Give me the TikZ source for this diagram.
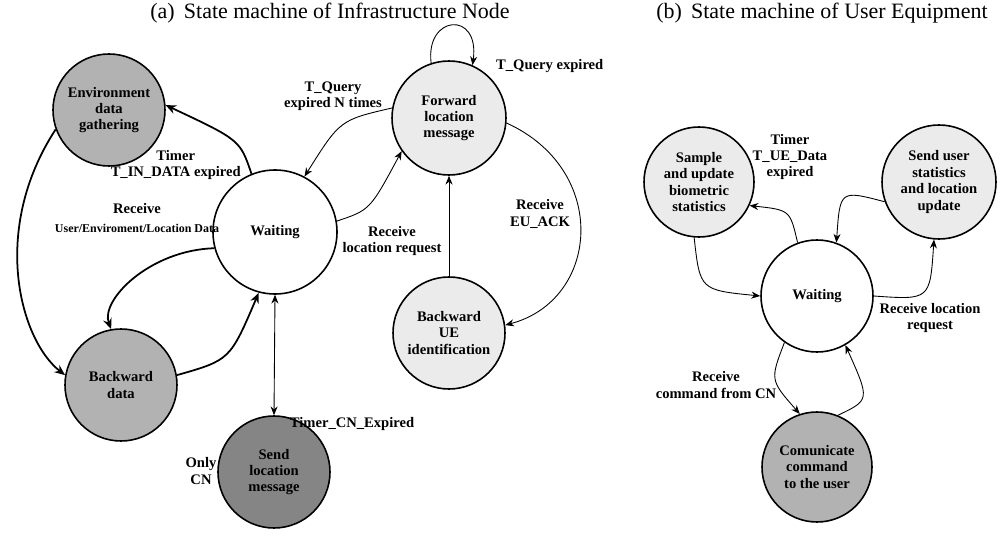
\documentclass[tikz,border=0pt]{standalone}
\usepackage{fontspec}
\setmainfont{Liberation Serif}
\usetikzlibrary{arrows.meta}
\begin{document}
\begin{tikzpicture}[x=0.02cm,y=-0.02cm,
 st/.style={circle,draw,line width=0.9pt,align=center,font=\bfseries\fontsize{8.3}{9.3}\selectfont,inner sep=0pt},
 lb/.style={font=\bfseries\fontsize{8.3}{9.3}\selectfont,align=center},
 e/.style={-{Stealth[length=5pt,width=4pt]},line width=0.5pt},
 ek/.style={-{Stealth[length=6pt,width=5pt]},line width=1pt},
 tt/.style={font=\fontsize{12.5}{14}\selectfont}]
\useasboundingbox (0,0) rectangle (1000,547);
\node[tt] (ta) at (330,13) {(a)\, State machine of Infrastructure Node};
\node[tt] (tb) at (822,13) {(b)\, State machine of User Equipment};
% (a)
\node[st,fill=black!30,minimum size=112*0.02cm] (env) at (109,110) {Environment\\data\\gathering};
\node[st,fill=white,minimum size=124*0.02cm] (w) at (275,232) {Waiting};
\node[st,fill=black!30,minimum size=112*0.02cm] (bd) at (121,385) {Backward\\data};
\node[st,fill=black!48,minimum size=112*0.02cm] (sl) at (274,472) {Send\\location\\message};
\node[st,fill=black!8,minimum size=114*0.02cm] (fw) at (449,118) {Forward\\location\\message};
\node[st,fill=black!8,minimum size=112*0.02cm] (bu) at (449,333) {Backward\\UE\\identification};
\draw[ek] (w.112) .. controls (240,140) .. (env.5);
\node[lb,anchor=east] (l1) at (247,165) {Timer\\T\_IN\_DATA expired};
\draw[ek] (env.200) .. controls (-10,230) and (20,340) .. (bd.170);
\draw[ek] (w.195) .. controls (150,250) and (100,300) .. (bd.100);
\node[lb] (l2) at (137,218) {Receive\\[1pt]{\fontsize{6.8}{7.5}\selectfont User/Enviroment/Location Data}};
\draw[ek] (bd.10) .. controls (230,360) .. (w.255);
\draw[{Stealth[length=5pt,width=4pt]}-{Stealth[length=5pt,width=4pt]},line width=0.5pt] (w.south) -- (sl.north);
\node[lb] (l3) at (352,424) {Timer\_CN\_Expired};
\node[lb] (l4) at (201,471) {Only\\CN};
\draw[e] (w.10) .. controls (370,210) .. (fw.215);
\node[lb] (l5) at (392,241) {Receive\\location request};
\draw[e] (fw.170) .. controls (340,120) .. (w.62);
\node[lb] (l6) at (333,96) {T\_Query\\expired N times};
\draw[e] (fw.108) .. controls (425,15) and (480,10) .. (fw.66);
\node[lb,anchor=west] (l7) at (490,66) {T\_Query expired};
\draw[e] (fw.-5) .. controls (610,170) and (600,300) .. (bu.8);
\node[lb] (l8) at (540,214) {Receive\\EU\_ACK};
\draw[e] (bu.north) -- (fw.south);
% (b)
\node[st,fill=black!8,minimum size=110*0.02cm] (sa) at (699,182) {Sample\\and update\\biometric\\statistics};
\node[st,fill=black!8,minimum size=114*0.02cm] (su) at (939,182) {Send user\\statistics\\and location\\update};
\node[st,fill=white,minimum size=112*0.02cm] (wb) at (817,296) {Waiting};
\node[st,fill=black!30,minimum size=110*0.02cm] (cm) at (817,467) {Comunicate\\command\\to the user};
\draw[e] (wb.110) .. controls (790,210) .. (sa.-25);
\node[lb] (l9) at (790,157) {Timer\\T\_UE\_Data\\expired};
\draw[e] (sa.-95) .. controls (700,290) .. (wb.180);
\draw[e] (wb.0) .. controls (930,300) .. (su.-95);
\draw[e] (su.200) .. controls (840,190) .. (wb.70);
\node[lb] (l10) at (930,318) {Receive location\\request};
\draw[e] (wb.235) .. controls (770,380) .. (cm.108);
\node[lb] (l11) at (716,385) {Receive\\command from CN};
\draw[e] (cm.68) .. controls (870,400) .. (wb.300);
\end{tikzpicture}
\end{document}
